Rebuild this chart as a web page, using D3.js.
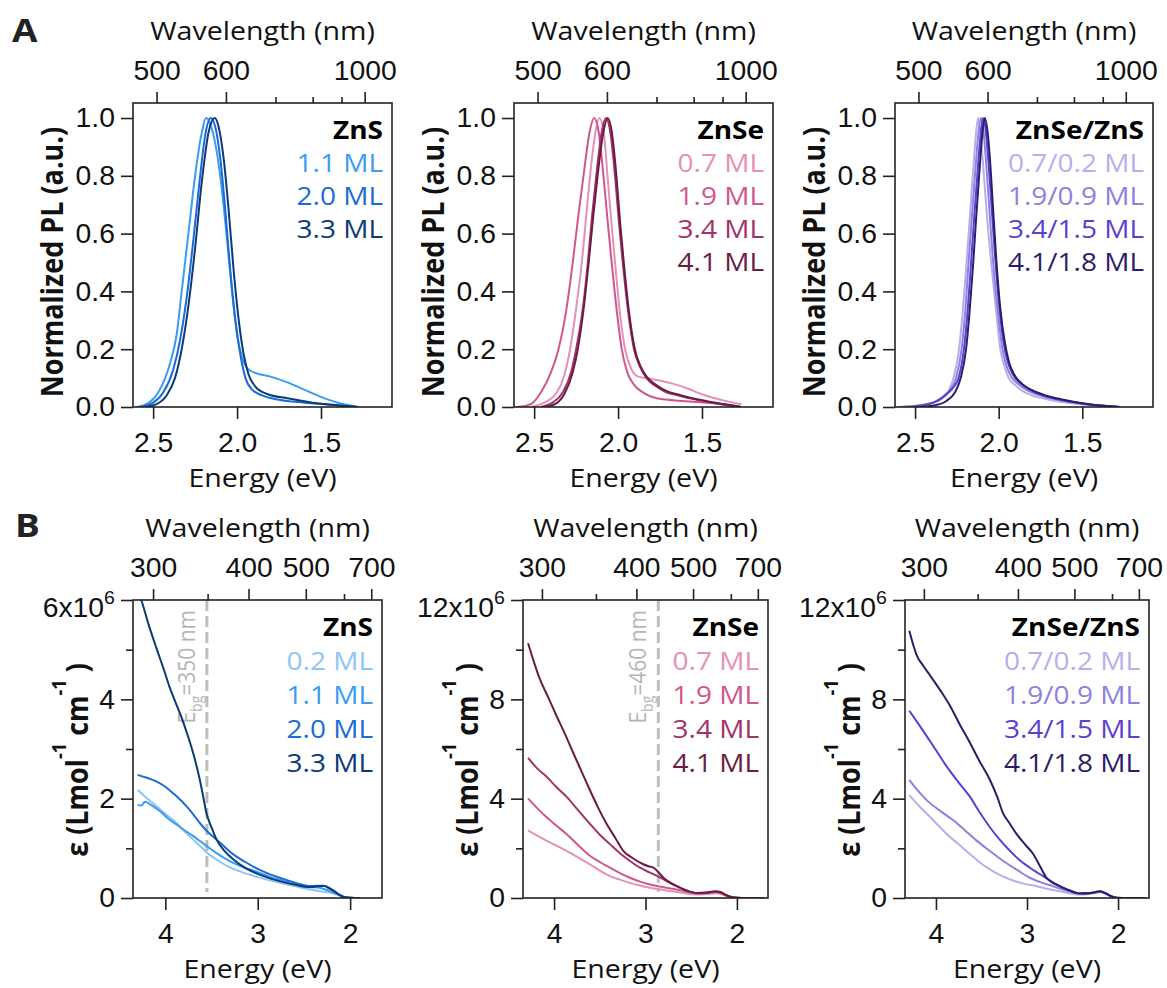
<!DOCTYPE html>
<html>
<head>
<meta charset="utf-8">
<script src="https://cdn.jsdelivr.net/npm/d3@7"></script>
<style>
  body { margin: 0; background: #fff; }
  svg { display: block; }
</style>
</head>
<body>
<svg id="chart" width="1167" height="988"></svg>
<script>
// ---------- data: PL spectra [energy eV, normalized PL] ----------
const plZnS11 = [[2.60,0],[2.54,0.01],[2.47,0.05],[2.40,0.15],[2.36,0.25],[2.33,0.4],[2.29,0.6],[2.25,0.8],[2.21,0.95],[2.185,1.0],[2.16,0.98],[2.12,0.88],[2.09,0.75],[2.06,0.58],[2.03,0.4],[2.0,0.25],[1.97,0.17],[1.94,0.135],[1.90,0.12],[1.80,0.105],[1.70,0.085],[1.60,0.06],[1.50,0.035],[1.40,0.015],[1.32,0.005],[1.28,0]];
const plZnS20 = [[2.58,0],[2.50,0.015],[2.44,0.05],[2.38,0.13],[2.34,0.23],[2.30,0.38],[2.26,0.58],[2.22,0.8],[2.19,0.94],[2.157,1.0],[2.13,0.97],[2.10,0.86],[2.07,0.68],[2.04,0.47],[2.01,0.3],[1.98,0.18],[1.95,0.1],[1.91,0.06],[1.85,0.04],[1.75,0.025],[1.6,0.015],[1.45,0.008],[1.3,0]];
const plZnS33 = [[2.55,0],[2.48,0.01],[2.42,0.04],[2.37,0.1],[2.33,0.2],[2.29,0.35],[2.25,0.55],[2.21,0.78],[2.17,0.95],[2.133,1.0],[2.11,0.97],[2.08,0.86],[2.05,0.68],[2.02,0.47],[1.99,0.3],[1.96,0.18],[1.93,0.11],[1.89,0.07],[1.82,0.045],[1.7,0.03],[1.55,0.015],[1.4,0.006],[1.28,0]];

const plZnSe07 = [[2.52,0],[2.44,0.015],[2.365,0.05],[2.32,0.11],[2.286,0.2],[2.25,0.34],[2.216,0.5],[2.19,0.66],[2.167,0.8],[2.135,0.95],[2.111,1.0],[2.085,0.95],[2.063,0.8],[2.04,0.64],[2.018,0.5],[1.99,0.33],[1.958,0.2],[1.92,0.13],[1.88,0.105],[1.81,0.098],[1.74,0.09],[1.67,0.08],[1.59,0.065],[1.51,0.046],[1.44,0.033],[1.373,0.023],[1.264,0.01]];
const plZnSe19 = [[2.60,0],[2.52,0.01],[2.46,0.05],[2.40,0.12],[2.355,0.2],[2.31,0.33],[2.27,0.5],[2.235,0.67],[2.206,0.8],[2.17,0.95],[2.143,1.0],[2.115,0.95],[2.087,0.8],[2.06,0.63],[2.038,0.5],[2.005,0.32],[1.978,0.2],[1.945,0.12],[1.909,0.08],[1.85,0.05],[1.77,0.03],[1.6,0.02],[1.47,0.015],[1.35,0.008],[1.274,0.003]];
const plZnSe34 = [[2.46,0],[2.39,0.015],[2.33,0.05],[2.28,0.12],[2.25,0.2],[2.21,0.34],[2.18,0.5],[2.155,0.66],[2.13,0.8],[2.098,0.95],[2.072,1.0],[2.046,0.95],[2.018,0.8],[1.995,0.64],[1.972,0.5],[1.94,0.33],[1.905,0.2],[1.87,0.14],[1.83,0.1],[1.77,0.07],[1.71,0.05],[1.64,0.04],[1.57,0.03],[1.47,0.018],[1.37,0.008],[1.27,0]];
const plZnSe41 = [[2.44,0],[2.37,0.012],[2.32,0.045],[2.27,0.12],[2.24,0.2],[2.205,0.34],[2.175,0.5],[2.148,0.66],[2.122,0.8],[2.088,0.95],[2.062,1.0],[2.037,0.95],[2.01,0.8],[1.988,0.64],[1.966,0.5],[1.935,0.33],[1.9,0.2],[1.865,0.14],[1.83,0.105],[1.77,0.075],[1.71,0.055],[1.64,0.043],[1.57,0.032],[1.47,0.02],[1.37,0.01],[1.265,0]];

const plCS1 = [[2.6,0],[2.5,0.004],[2.45,0.008],[2.40,0.014],[2.36,0.022],[2.33,0.035],[2.305,0.05],[2.27,0.1],[2.237,0.2],[2.215,0.33],[2.192,0.5],[2.172,0.66],[2.155,0.8],[2.138,0.93],[2.123,1.0],[2.11,0.95],[2.088,0.8],[2.07,0.66],[2.045,0.5],[2.015,0.33],[1.99,0.2],[1.965,0.14],[1.94,0.1],[1.9,0.075],[1.856,0.055],[1.8,0.04],[1.737,0.03],[1.65,0.02],[1.55,0.012],[1.45,0.006],[1.3,0]];
const plCS2 = [[2.58,0],[2.48,0.005],[2.43,0.01],[2.38,0.018],[2.345,0.03],[2.315,0.045],[2.29,0.06],[2.255,0.1],[2.222,0.2],[2.2,0.33],[2.18,0.5],[2.16,0.66],[2.142,0.8],[2.124,0.93],[2.107,1.0],[2.092,0.96],[2.073,0.83],[2.055,0.68],[2.033,0.5],[2.005,0.33],[1.98,0.21],[1.955,0.145],[1.925,0.105],[1.88,0.078],[1.82,0.055],[1.74,0.038],[1.64,0.024],[1.52,0.013],[1.4,0.005],[1.28,0]];
const plCS3 = [[2.52,0],[2.45,0.006],[2.39,0.015],[2.33,0.035],[2.3,0.05],[2.275,0.065],[2.24,0.1],[2.208,0.2],[2.186,0.33],[2.165,0.5],[2.146,0.66],[2.128,0.8],[2.11,0.93],[2.093,1.0],[2.078,0.96],[2.06,0.84],[2.042,0.69],[2.02,0.51],[1.995,0.34],[1.97,0.22],[1.945,0.155],[1.915,0.112],[1.87,0.082],[1.81,0.058],[1.73,0.04],[1.63,0.025],[1.51,0.013],[1.39,0.005],[1.28,0]];
const plCS4 = [[2.47,0],[2.39,0.005],[2.315,0.02],[2.262,0.05],[2.227,0.1],[2.195,0.2],[2.174,0.33],[2.152,0.5],[2.134,0.66],[2.117,0.8],[2.1,0.93],[2.083,1.0],[2.068,0.96],[2.05,0.84],[2.035,0.7],[2.013,0.5],[1.99,0.34],[1.962,0.22],[1.938,0.155],[1.91,0.115],[1.86,0.08],[1.8,0.058],[1.72,0.04],[1.62,0.026],[1.5,0.013],[1.37,0.004],[1.273,0]];

// ---------- data: absorption [energy eV, epsilon / 1e6] ----------
const absZnS02 = [[4.30,2.18],[4.2,2.01],[4.098,1.85],[3.99,1.68],[3.88,1.51],[3.79,1.34],[3.70,1.18],[3.62,1.04],[3.555,0.92],[3.45,0.78],[3.338,0.65],[3.17,0.52],[3.0,0.42],[2.86,0.35],[2.723,0.29],[2.58,0.23],[2.434,0.17],[2.3,0.13],[2.18,0.09],[2.1,0.04],[2.04,0.01],[1.95,0]];
const absZnS11 = [[4.30,1.88],[4.26,1.86],[4.22,1.94],[4.16,1.88],[4.06,1.75],[3.97,1.6],[3.88,1.48],[3.79,1.36],[3.70,1.25],[3.62,1.14],[3.555,1.05],[3.45,0.91],[3.338,0.78],[3.17,0.63],[3.0,0.52],[2.86,0.42],[2.723,0.35],[2.58,0.28],[2.434,0.22],[2.35,0.21],[2.25,0.16],[2.18,0.11],[2.1,0.05],[2.04,0.01],[1.95,0]];
const absZnS20 = [[4.30,2.48],[4.2,2.42],[4.098,2.35],[4.0,2.24],[3.917,2.11],[3.85,2.0],[3.772,1.85],[3.7,1.69],[3.627,1.51],[3.54,1.33],[3.447,1.18],[3.36,1.03],[3.266,0.88],[3.13,0.72],[3.0,0.585],[2.86,0.47],[2.723,0.385],[2.58,0.3],[2.434,0.24],[2.35,0.245],[2.27,0.24],[2.2,0.17],[2.13,0.08],[2.07,0.02],[2.0,0.005],[1.89,0]];
const absZnS33 = [[4.33,6.35],[4.26,6.0],[4.18,5.5],[4.098,5.04],[4.02,4.62],[3.953,4.24],[3.89,3.94],[3.826,3.64],[3.77,3.34],[3.718,3.04],[3.67,2.72],[3.627,2.38],[3.59,2.04],[3.555,1.71],[3.5,1.42],[3.447,1.18],[3.36,0.95],[3.266,0.78],[3.13,0.6],[3.0,0.485],[2.86,0.39],[2.723,0.32],[2.58,0.26],[2.434,0.22],[2.36,0.235],[2.29,0.245],[2.23,0.2],[2.18,0.15],[2.12,0.07],[2.07,0.02],[2.0,0.005],[1.89,0]];

const absZnSe07 = [[4.285,2.72],[4.18,2.5],[4.084,2.31],[3.97,2.1],[3.865,1.9],[3.73,1.62],[3.609,1.36],[3.5,1.1],[3.389,0.88],[3.28,0.74],[3.17,0.61],[3.06,0.5],[2.951,0.41],[2.8,0.32],[2.658,0.245],[2.55,0.18],[2.439,0.136],[2.33,0.16],[2.22,0.19],[2.16,0.15],[2.1,0.07],[2.037,0.02],[1.95,0.005],[1.7,0]];
const absZnSe19 = [[4.285,4.01],[4.18,3.6],[4.084,3.26],[3.97,2.9],[3.865,2.58],[3.73,2.1],[3.609,1.7],[3.5,1.45],[3.389,1.22],[3.28,1.0],[3.17,0.815],[3.06,0.66],[2.951,0.54],[2.8,0.43],[2.658,0.34],[2.55,0.25],[2.439,0.18],[2.33,0.2],[2.24,0.24],[2.18,0.21],[2.12,0.1],[2.06,0.035],[2.0,0.01],[1.9,0],[1.7,0]];
const absZnSe34 = [[4.285,5.64],[4.18,5.2],[4.084,4.89],[3.97,4.45],[3.865,4.08],[3.74,3.55],[3.609,2.99],[3.5,2.55],[3.389,2.17],[3.28,1.8],[3.17,1.49],[3.06,1.22],[2.951,1.02],[2.88,0.9],[2.804,0.75],[2.73,0.6],[2.658,0.475],[2.55,0.3],[2.439,0.2],[2.33,0.21],[2.24,0.25],[2.18,0.22],[2.12,0.11],[2.06,0.04],[2.0,0.01],[1.9,0],[1.7,0]];
const absZnSe41 = [[4.285,10.26],[4.22,9.5],[4.157,8.83],[4.06,8.05],[3.974,7.34],[3.88,6.6],[3.79,5.84],[3.7,5.1],[3.609,4.35],[3.52,3.65],[3.426,2.99],[3.33,2.42],[3.243,1.9],[3.13,1.58],[3.024,1.36],[2.96,1.27],[2.914,1.22],[2.86,1.05],[2.804,0.815],[2.73,0.62],[2.658,0.475],[2.55,0.3],[2.439,0.2],[2.33,0.22],[2.24,0.27],[2.18,0.24],[2.12,0.12],[2.06,0.04],[2.0,0.01],[1.9,0],[1.7,0]];

const absCS1 = [[4.293,4.14],[4.2,3.76],[4.102,3.4],[3.99,2.98],[3.883,2.58],[3.75,2.16],[3.627,1.77],[3.52,1.44],[3.408,1.15],[3.3,0.93],[3.188,0.75],[3.04,0.58],[2.896,0.475],[2.77,0.36],[2.64,0.27],[2.53,0.19],[2.42,0.136],[2.3,0.17],[2.2,0.23],[2.14,0.17],[2.08,0.07],[2.018,0.01],[1.9,0],[1.7,0]];
const absCS2 = [[4.293,4.76],[4.2,4.33],[4.102,3.94],[3.95,3.5],[3.81,3.13],[3.68,2.72],[3.554,2.31],[3.41,1.9],[3.261,1.49],[3.11,1.13],[2.969,0.815],[2.84,0.62],[2.713,0.475],[2.57,0.3],[2.42,0.18],[2.3,0.19],[2.2,0.25],[2.14,0.18],[2.08,0.07],[2.018,0.01],[1.9,0],[1.7,0]];
const absCS3 = [[4.293,7.54],[4.2,7.05],[4.102,6.52],[3.99,5.9],[3.883,5.3],[3.75,4.65],[3.627,4.08],[3.52,3.45],[3.408,2.85],[3.3,2.35],[3.188,1.9],[3.08,1.52],[2.969,1.22],[2.9,1.05],[2.823,0.88],[2.73,0.66],[2.64,0.475],[2.53,0.3],[2.42,0.18],[2.3,0.2],[2.2,0.26],[2.14,0.19],[2.08,0.08],[2.018,0.01],[1.9,0],[1.7,0]];
const absCS4 = [[4.293,10.76],[4.25,10.2],[4.212,9.78],[4.14,9.35],[4.066,8.97],[3.95,8.35],[3.846,7.74],[3.74,7.0],[3.627,6.25],[3.52,5.5],[3.408,4.76],[3.33,4.1],[3.261,3.4],[3.19,3.0],[3.115,2.58],[3.02,2.15],[2.932,1.77],[2.86,1.3],[2.786,0.815],[2.71,0.6],[2.64,0.475],[2.53,0.3],[2.42,0.18],[2.3,0.2],[2.2,0.27],[2.14,0.2],[2.08,0.08],[2.018,0.01],[1.9,0],[1.7,0]];

// ---------- labels, colours, ticks ----------
const znsColors = ["#8ec5f6", "#3a9cf3", "#1b6bd6", "#0c3a78"];
const znseColors = ["#e590b7", "#d1568f", "#a3316c", "#6a1c45"];
const csColors = ["#b9aeeb", "#8f80e0", "#5a3fd2", "#2c1d6b"];
const znsLabels = ["0.2 ML", "1.1 ML", "2.0 ML", "3.3 ML"];
const znseLabels = ["0.7 ML", "1.9 ML", "3.4 ML", "4.1 ML"];
const csLabels = ["0.7/0.2 ML", "1.9/0.9 ML", "3.4/1.5 ML", "4.1/1.8 ML"];

const plEnergyTicks = [2.5, 2.0, 1.5];
const plYTicks = [0, 0.2, 0.4, 0.6, 0.8, 1.0];
const plWaveMajor = [500, 600, 1000];
const plWaveMinor = [700, 800, 900];
const absEnergyTicks = [4, 3, 2];
const absWaveMajor = [300, 400, 500, 700];
const absWaveMinor = [350, 600];
const bandgapE = [3.55, 2.86];           // dashed line positions (eV)
const bandgapText = ["350", "460"];      // nm

const HC = 1239.84;
const SX = 1.12;    // text in the figure is slightly stretched horizontally
const TSX = 1.03;   // tick labels
const svg = d3.select("#chart");

function drawPanel(p) {
  const x = d3.scaleLinear().domain(p.xDomain).range([p.left, p.right]);
  const y = d3.scaleLinear().domain(p.yDomain).range([p.bottom, p.top]);
  const g = svg.append("g");

  // wavelength scale built on top of the energy scale
  function waveScale(s) {
    const w = (l) => s(HC / l);
    w.copy = () => waveScale(s.copy());
    w.range = () => s.range();
    w.domain = () => s.domain().map((e) => HC / e);
    return w;
  }
  const xw = waveScale(x);

  g.append("clipPath").attr("id", "clip" + p.id)
    .append("rect")
    .attr("x", p.left).attr("y", p.top)
    .attr("width", p.right - p.left).attr("height", p.bottom - p.top);

  // band gap marker
  if (p.bg) {
    g.append("line")
      .attr("x1", x(p.bg.e)).attr("x2", x(p.bg.e))
      .attr("y1", p.top).attr("y2", p.bottom - 6)
      .attr("stroke", "#bdbdbd").attr("stroke-width", 3)
      .attr("stroke-dasharray", "11,5");
    const t = g.append("text")
      .attr("transform", `translate(${x(p.bg.e) - 12},${p.top + 10}) rotate(-90) scale(1,${SX})`)
      .attr("text-anchor", "end")
      .attr("font-family", "Open Sans").attr("font-size", 21)
      .attr("fill", "#b6b6b6");
    t.append("tspan").text("E");
    t.append("tspan").attr("dy", 6).attr("font-size", 14).text("bg");
    t.append("tspan").attr("dy", -6).text("=" + p.bg.nm + " nm");
  }

  const line = d3.line()
    .x((d) => x(d[0]))
    .y((d) => y(d[1]))
    .curve(d3.curveMonotoneX);

  g.append("g").attr("clip-path", `url(#clip${p.id})`)
    .selectAll("path")
    .data(p.series)
    .join("path")
    .attr("d", (d) => line(d.data))
    .attr("fill", "none")
    .attr("stroke", (d) => d.color)
    .attr("stroke-width", 2);

  g.append("rect")
    .attr("x", p.left).attr("y", p.top)
    .attr("width", p.right - p.left).attr("height", p.bottom - p.top)
    .attr("fill", "none").attr("stroke", "#222").attr("stroke-width", 1.6);

  function style(sel) {
    sel.select(".domain").remove();
    sel.selectAll(".tick line").attr("stroke", "#222").attr("stroke-width", 1.6);
    sel.selectAll(".tick text")
      .attr("font-family", "Liberation Sans, Arial, sans-serif")
      .attr("font-size", 27.5).attr("fill", "#111")
      .attr("transform", `scale(${TSX},1)`);
  }

  g.append("g").attr("transform", `translate(0,${p.bottom})`)
    .call(d3.axisBottom(x).tickValues(p.xTicks).tickSize(12).tickPadding(13).tickFormat(p.xFmt))
    .call(style);

  g.append("g").attr("transform", `translate(0,${p.top})`)
    .call(d3.axisTop(xw).tickValues(p.waveMajor).tickSize(11).tickPadding(12).tickFormat((d) => d))
    .call(style);
  g.append("g").attr("transform", `translate(0,${p.top})`)
    .call(d3.axisTop(xw).tickValues(p.waveMinor).tickSize(6).tickFormat(""))
    .call(style);

  const yAx = g.append("g").attr("transform", `translate(${p.left},0)`)
    .call(d3.axisLeft(y).tickValues(p.yTicks).tickSize(12).tickPadding(5.5).tickFormat(p.yFmt))
    .call(style);
  if (p.yMinor) {
    g.append("g").attr("transform", `translate(${p.left},0)`)
      .call(d3.axisLeft(y).tickValues(p.yMinor).tickSize(7).tickFormat(""))
      .call(style);
  }
  if (p.expTop) {
    yAx.selectAll(".tick text")
      .filter((d) => d === p.yDomain[1])
      .each(function (d) {
        const t = d3.select(this).text(null).attr("dy", "0.6em");
        t.append("tspan").text(d + "x10");
        t.append("tspan").attr("dy", -13).attr("font-size", 19).text("6");
      });
  }

  const cx = (p.left + p.right) / 2;
  function title(str, yy) {
    g.append("text")
      .attr("transform", `translate(${cx},${yy}) scale(${SX},1)`)
      .attr("text-anchor", "middle")
      .attr("font-family", "Open Sans").attr("font-size", 25.5).attr("fill", "#111")
      .text(str);
  }
  title("Wavelength (nm)", p.top - 63);
  title("Energy (eV)", p.bottom + 80);

  // y axis title
  const yt = g.append("text")
    .attr("transform", `translate(${p.yTitleX},${p.yTitleY}) rotate(-90) scale(1,${SX})`)
    .attr("text-anchor", "middle")
    .attr("font-family", "Open Sans").attr("font-weight", "bold")
    .attr("font-size", 27).attr("fill", "#111");
  if (p.kind === "pl") {
    yt.text("Normalized PL (a.u.)");
  } else {
    yt.append("tspan").text("ε (Lmol");
    yt.append("tspan").attr("dy", -20).attr("font-size", 18).text("-1");
    yt.append("tspan").attr("dy", 20).text(" cm");
    yt.append("tspan").attr("dy", -20).attr("font-size", 18).text("-1");
    yt.append("tspan").attr("dy", 20).text(" )");
  }

  // legend
  const lx = p.right - 9;
  const ly = p.top + 36;
  const step = p.kind === "pl" ? 33 : 34;
  g.append("text")
    .attr("transform", `translate(${lx},${ly}) scale(${SX},1)`)
    .attr("text-anchor", "end")
    .attr("font-family", "Open Sans").attr("font-weight", "bold")
    .attr("font-size", 25).attr("fill", "#000")
    .text(p.name);
  g.selectAll(".leg")
    .data(p.series)
    .join("text")
    .attr("transform", (d, i) => `translate(${lx},${ly + (i + 1) * step}) scale(${SX},1)`)
    .attr("text-anchor", "end")
    .attr("font-family", "Open Sans").attr("font-size", 25)
    .attr("fill", (d) => d.color)
    .text((d) => d.label);
}

function series(datas, labels, colors) {
  return datas.map((d, i) => ({ data: d, label: labels[i], color: colors[i] }));
}

const plBase = {
  kind: "pl", top: 103, bottom: 407, xDomain: [2.62, 1.077], yDomain: [0, 1.052],
  xTicks: plEnergyTicks, xFmt: d3.format(".1f"), yTicks: plYTicks, yFmt: d3.format(".1f"),
  waveMajor: plWaveMajor, waveMinor: plWaveMinor, yTitleY: 262
};
const absBase = {
  kind: "abs", top: 600, bottom: 898, xTicks: absEnergyTicks, xFmt: d3.format("d"),
  yFmt: (d) => d, waveMajor: absWaveMajor, waveMinor: absWaveMinor, expTop: true, yTitleY: 760
};

drawPanel({ ...plBase, id: "a1", left: 133, right: 392, yTitleX: 63, name: "ZnS",
  series: series([plZnS11, plZnS20, plZnS33], znsLabels.slice(1), znsColors.slice(1)) });
drawPanel({ ...plBase, id: "a2", left: 514, right: 773, yTitleX: 444, name: "ZnSe",
  series: series([plZnSe07, plZnSe19, plZnSe34, plZnSe41], znseLabels, znseColors) });
drawPanel({ ...plBase, id: "a3", left: 895, right: 1153, yTitleX: 825, name: "ZnSe/ZnS",
  series: series([plCS1, plCS2, plCS3, plCS4], csLabels, csColors) });

drawPanel({ ...absBase, id: "b1", left: 133, right: 382, xDomain: [4.35, 1.655], yDomain: [0, 6],
  yTicks: [0, 2, 4, 6], yMinor: [1, 3, 5], yTitleX: 88, name: "ZnS",
  bg: { e: bandgapE[0], nm: bandgapText[0] },
  series: series([absZnS02, absZnS11, absZnS20, absZnS33], znsLabels, znsColors) });
drawPanel({ ...absBase, id: "b2", left: 523, right: 768, xDomain: [4.34, 1.66], yDomain: [0, 12],
  yTicks: [0, 4, 8, 12], yMinor: [2, 6, 10], yTitleX: 478, name: "ZnSe",
  bg: { e: bandgapE[1], nm: bandgapText[1] },
  series: series([absZnSe07, absZnSe19, absZnSe34, absZnSe41], znseLabels, znseColors) });
drawPanel({ ...absBase, id: "b3", left: 905, right: 1149, xDomain: [4.34, 1.66], yDomain: [0, 12],
  yTicks: [0, 4, 8, 12], yMinor: [2, 6, 10], yTitleX: 860, name: "ZnSe/ZnS",
  series: series([absCS1, absCS2, absCS3, absCS4], csLabels, csColors) });

// panel letters
svg.selectAll(".panel-letter")
  .data([["A", 12, 42], ["B", 15, 537]])
  .join("text")
  .attr("transform", (d) => `translate(${d[1]},${d[2]}) scale(${SX},1)`)
  .attr("font-family", "Open Sans").attr("font-weight", "bold")
  .attr("font-size", 33).attr("fill", "#222")
  .text((d) => d[0]);
</script>
</body>
</html>
